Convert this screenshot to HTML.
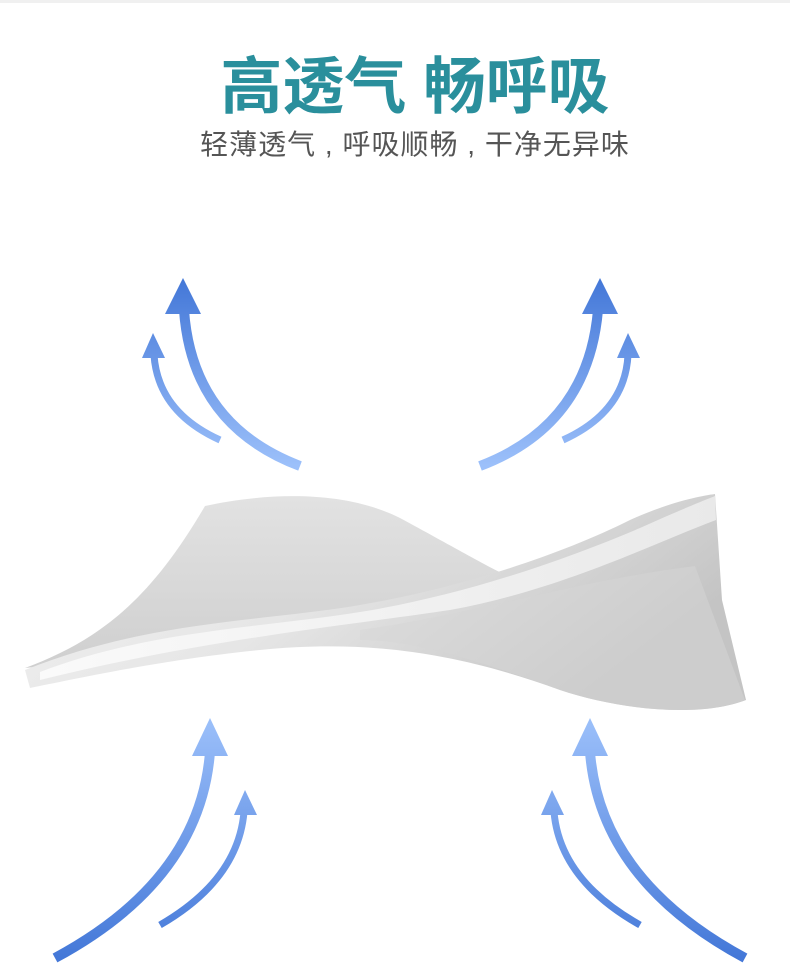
<!DOCTYPE html>
<html><head><meta charset="utf-8"><style>
html,body{margin:0;padding:0;background:#fff;width:790px;height:975px;overflow:hidden}
.t{position:absolute;left:0;width:790px;text-align:center;font-family:"Liberation Sans","Noto Sans CJK SC",sans-serif}
</style></head><body>
<div style="position:absolute;left:0;top:0;width:790px;height:3px;background:#f0f0f0"></div>
<div class="t" style="top:36px;left:20px;font-size:62px;font-weight:bold;color:#2a8f9c;letter-spacing:0px">高透气 畅呼吸</div>
<div class="t" style="top:123px;left:20px;font-size:28px;color:#555;white-space:nowrap;letter-spacing:1px">轻薄透气 , 呼吸顺畅 , 干净无异味</div>
<svg width="790" height="975" style="position:absolute;left:0;top:0">
<defs>
<linearGradient id="bk" x1="0" y1="0" x2="0" y2="1"><stop offset="0" stop-color="#e2e2e2"/><stop offset="1" stop-color="#cfcfcf"/></linearGradient>
<linearGradient id="fr" x1="0" y1="0" x2="1" y2="0.4"><stop offset="0" stop-color="#f2f2f2"/><stop offset="0.5" stop-color="#e6e6e6"/><stop offset="1" stop-color="#c4c4c4"/></linearGradient>
<linearGradient id="tp" x1="0" y1="0" x2="1" y2="0"><stop offset="0" stop-color="#fafafa"/><stop offset="1" stop-color="#e9e9e9"/></linearGradient>
<linearGradient id="up" x1="0" y1="280" x2="0" y2="466" gradientUnits="userSpaceOnUse"><stop offset="0" stop-color="#4478d8"/><stop offset="1" stop-color="#9cc0fa"/></linearGradient>
<linearGradient id="dn" x1="0" y1="718" x2="0" y2="958" gradientUnits="userSpaceOnUse"><stop offset="0" stop-color="#9cc0fa"/><stop offset="1" stop-color="#4478d8"/></linearGradient>
</defs>
<path d="M205,506 C260,494 340,488 400,518 C450,545 490,568 506,575 L300,640 L25,668 C100,640 150,600 205,506Z" fill="url(#bk)"/>
<path d="M25,670 C150,620 260,622 360,605 C460,588 560,555 630,520 C670,502 700,496 715,494 L722,600 L746,700 C700,718 620,710 560,690 C450,650 360,640 260,650 C160,660 70,680 30,688Z" fill="url(#fr)"/>
<path d="M40,672 C150,630 260,628 360,612 C460,596 560,562 640,528 C680,510 705,500 715,496 L716,520 C650,545 560,590 450,610 C350,625 200,640 40,680Z" fill="url(#tp)"/>
<path d="M360,630 C470,615 580,580 695,566 L745,700 C700,718 620,710 560,690 C450,650 400,640 360,640Z" fill="#d6d6d6" opacity="0.5"/>
<g fill="none" stroke-linecap="butt">
<path d="M300,466 Q192,425 184,310" stroke="url(#up)" stroke-width="10"/>
<path d="M220,440 Q158,412 154,355" stroke="url(#up)" stroke-width="7"/>
<path d="M480,466 Q588,425 598,310" stroke="url(#up)" stroke-width="10"/>
<path d="M563,440 Q625,412 628,355" stroke="url(#up)" stroke-width="7"/>
<path d="M55,958 Q200,880 210,752" stroke="url(#dn)" stroke-width="10"/>
<path d="M160,925 Q238,880 244,812" stroke="url(#dn)" stroke-width="7"/>
<path d="M745,958 Q600,880 590,752" stroke="url(#dn)" stroke-width="10"/>
<path d="M640,925 Q560,880 554,812" stroke="url(#dn)" stroke-width="7"/>
</g>
<g fill="url(#up)">
<polygon points="183,278 165,314 201,314"/>
<polygon points="153,333 142,358 165,358"/>
<polygon points="600,278 582,314 618,314"/>
<polygon points="628,333 617,358 640,358"/>
</g>
<g fill="url(#dn)">
<polygon points="210,718 192,756 228,756"/>
<polygon points="245,790 234,815 257,815"/>
<polygon points="590,718 572,756 608,756"/>
<polygon points="552,790 541,815 564,815"/>
</g>
</svg>
</body></html>
